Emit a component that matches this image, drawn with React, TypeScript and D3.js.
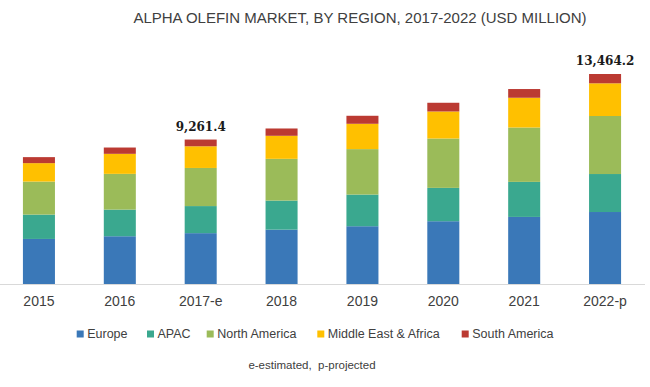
import React from "react";
import * as d3 from "d3";

const categories = ["2015", "2016", "2017-e", "2018", "2019", "2020", "2021", "2022-p"];
const seriesNames = ["Europe", "APAC", "North America", "Middle East & Africa", "South America"];
const europe = [2889, 3062, 3260, 3486, 3704, 4025, 4301, 4615];
const apac = [1560, 1708, 1736, 1862, 2029, 2138, 2247, 2436];
const northAmerica = [2119, 2292, 2444, 2677, 2915, 3165, 3486, 3720];
const middleEastAfrica = [1181, 1284, 1390, 1477, 1624, 1733, 1907, 2096];
const southAmerica = [385, 404, 431.4, 469, 514, 559, 559, 597.2];
const labeledCategories = ["2017-e", "2022-p"];

const colors = ["#3a78b8", "#3aa88f", "#9bbb59", "#ffc000", "#bb3a32"];
const legendX = [76.7, 147, 206.7, 317.3, 461.7];

const W = 650;
const H = 387;
const baseY = 284;
const topY = 74;

export default function App() {
  const seriesValues = [europe, apac, northAmerica, middleEastAfrica, southAmerica];
  const rows = categories.map((c, i) => {
    const r: any = { cat: c };
    seriesNames.forEach((s, j) => (r[s] = seriesValues[j][i]));
    return r;
  });
  const stack = d3.stack<any>().keys(seriesNames)(rows);
  const totals = categories.map((_, i) => d3.sum(seriesValues, (s) => s[i]));
  const maxTotal = d3.max(totals) as number;

  const x = d3
    .scaleBand<string>()
    .domain(categories)
    .range([-1.5, 645.5])
    .paddingInner(0.604)
    .paddingOuter(0.302);
  const y = d3.scaleLinear().domain([0, maxTotal]).range([baseY, topY]);
  const fmt = d3.format(",.1f");
  const sans = "'Liberation Sans', Arial, sans-serif";

  return (
    <svg
      width={W}
      height={H}
      style={{ position: "absolute", left: 0, top: 0, background: "#fff" }}
    >
      <text
        x={360}
        y={23}
        textAnchor="middle"
        fontFamily={sans}
        fontSize={15}
        fill="#404040"
      >
        ALPHA OLEFIN MARKET, BY REGION, 2017-2022 (USD MILLION)
      </text>

      {stack.map((layer, j) => (
        <g key={layer.key} fill={colors[j]}>
          {layer.map((d, i) => (
            <rect
              key={i}
              x={x(categories[i])}
              width={x.bandwidth()}
              y={y(d[1])}
              height={y(d[0]) - y(d[1])}
            />
          ))}
        </g>
      ))}

      <line x1={0} x2={645} y1={baseY + 0.5} y2={baseY + 0.5} stroke="#d9d9d9" strokeWidth={1} />

      {categories.map((c) => (
        <text
          key={c}
          x={(x(c) as number) + x.bandwidth() / 2}
          y={306}
          textAnchor="middle"
          fontFamily={sans}
          fontSize={14}
          fill="#404040"
        >
          {c}
        </text>
      ))}

      {categories.map((c, i) =>
        labeledCategories.includes(c) ? (
          <text
            key={"l" + c}
            x={(x(c) as number) + x.bandwidth() / 2}
            y={y(totals[i]) - 9}
            textAnchor="middle"
            fontFamily="'DejaVu Serif', serif"
            fontWeight="bold"
            fontSize={12}
            fill="#1a1a1a"
          >
            {fmt(totals[i])}
          </text>
        ) : null
      )}

      {seriesNames.map((s, j) => (
        <g key={s}>
          <rect x={legendX[j]} y={330.5} width={7} height={7} fill={colors[j]} />
          <text
            x={legendX[j] + 10.5}
            y={338}
            fontFamily={sans}
            fontSize={12.5}
            fill="#404040"
          >
            {s}
          </text>
        </g>
      ))}

      <text
        x={312}
        y={369}
        textAnchor="middle"
        fontFamily={sans}
        fontSize={11.5}
        fill="#404040"
        style={{ whiteSpace: "pre" }}
      >
        {"e-estimated,  p-projected"}
      </text>
    </svg>
  );
}
